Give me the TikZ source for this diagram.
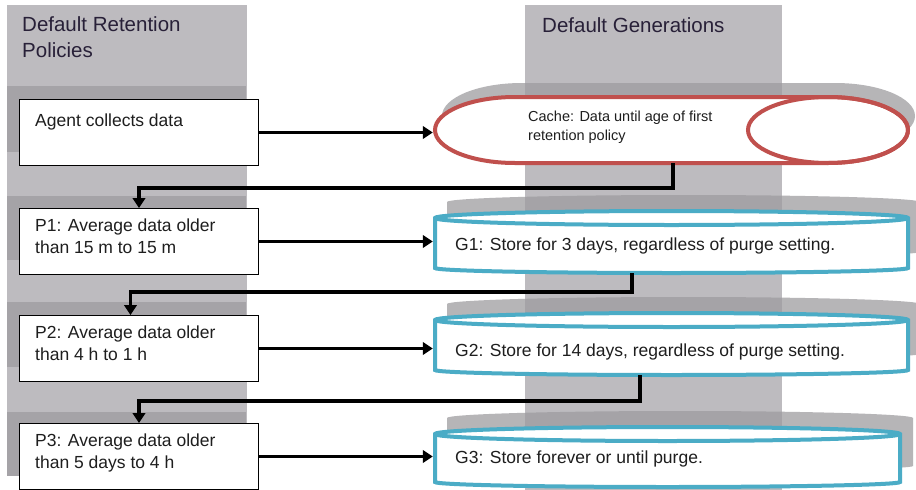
\documentclass[tikz,border=0pt]{standalone}
\usepackage{fontspec}
\setmainfont{Liberation Sans}
\usetikzlibrary{arrows.meta}
\definecolor{colgray}{RGB}{157,155,160}
\definecolor{shadowgray}{RGB}{182,181,183}
\definecolor{cachered}{RGB}{192,80,77}
\definecolor{genblue}{RGB}{75,172,198}
\definecolor{titletext}{RGB}{40,32,56}
\definecolor{bodytext}{RGB}{30,30,30}
\begin{document}
\begin{tikzpicture}[x=1pt,y=-1pt,
  column/.style={fill=colgray, fill opacity=0.67, draw=none},
  shadowfill/.style={fill=shadowgray, draw=none},
  policybox/.style={draw=black, line width=1pt, fill=white, rectangle, minimum width=239pt, minimum height=66pt, anchor=north west, inner sep=0pt},
  boxtext/.style={font=\fontsize{17.5}{22}\selectfont, text=bodytext, align=left, anchor=north west, inner sep=0pt},
  cachetext/.style={font=\fontsize{14.5}{18.5}\selectfont, text=bodytext, align=left, anchor=north west, inner sep=0pt},
  titletxt/.style={font=\fontsize{20.5}{26}\selectfont, text=titletext, align=left, anchor=north west, inner sep=0pt},
  gentext/.style={font=\fontsize{17.5}{21}\selectfont, text=bodytext, anchor=base west, inner sep=0pt},
  flow/.style={draw=black, line width=3.6pt, -{Triangle[length=10pt,width=12.5pt]}},
  anchorbox/.style={rectangle, draw=none, inner sep=0pt},
  redline/.style={draw=cachered, line width=4pt},
  blueline/.style={draw=genblue, line width=4pt}
]
\useasboundingbox (0,0) rectangle (916,490);
\fill[white] (0,0) rectangle (916,490);

% shadows on the left
\fill[shadowfill] (7,86) rectangle (246,152);
\fill[shadowfill] (7,196) rectangle (246,260);
\fill[shadowfill] (7,302) rectangle (246,367);
\fill[shadowfill] (7,412) rectangle (246,476);

% shadows on the right
\fill[shadowfill] (522,83) -- (835,83) arc[start angle=-90,end angle=90,x radius=80,y radius=33] -- (522,149) arc[start angle=90,end angle=270,x radius=80,y radius=33] -- cycle;
\fill[shadowfill] (447,202) arc[start angle=180,end angle=360,x radius=236.5,y radius=7] -- (920,252) arc[start angle=0,end angle=180,x radius=236.5,y radius=5] -- cycle;
\fill[shadowfill] (447,304) arc[start angle=180,end angle=360,x radius=236.5,y radius=7] -- (920,354) arc[start angle=0,end angle=180,x radius=236.5,y radius=5] -- cycle;
\fill[shadowfill] (447,418) arc[start angle=180,end angle=360,x radius=233,y radius=7] -- (913,466) arc[start angle=0,end angle=180,x radius=233,y radius=5] -- cycle;

% columns
\fill[column] (7,5) rectangle (247,476);
\fill[column] (525,5) rectangle (782,490);

% titles
\node[titletxt] (lefttitle) at (22,16) {Default Retention\\Policies};
\node[titletxt] (righttitle) at (542,17) {Default Generations};

% policy boxes
\node[policybox] (agent) at (19,99) {};
\node[policybox] (p1) at (19,208) {};
\node[policybox] (p2) at (19,315) {};
\node[policybox] (p3) at (19,423) {};
\node[boxtext] (agenttxt) at (35,114) {Agent collects data};
\node[boxtext] (p1txt) at (35,219) {P1: Average data older\\than 15 m to 15 m};
\node[boxtext] (p2txt) at (35,326) {P2: Average data older\\than 4 h to 1 h};
\node[boxtext] (p3txt) at (35,434) {P3: Average data older\\than 5 days to 4 h};

% cache cylinder
\node[anchorbox, minimum width=473pt, minimum height=66pt] (cache) at (671.5,130) {};
\path[redline, fill=white] (515,97) -- (828,97) arc[start angle=-90,end angle=90,x radius=80,y radius=33] -- (515,163) arc[start angle=90,end angle=270,x radius=80,y radius=33] -- cycle;
\draw[redline] (828,130) ellipse[x radius=80,y radius=33];
\node[cachetext] (cachetxt) at (528,111) {Cache: Data until age of first\\retention policy};

% generation cylinders
\node[anchorbox, minimum width=473pt, minimum height=62pt] (g1) at (671.5,242) {};
\node[anchorbox, minimum width=473pt, minimum height=62pt] (g2) at (671.5,344) {};
\node[anchorbox, minimum width=465pt, minimum height=60pt] (g3) at (667.5,457) {};
\path[blueline, fill=white] (435,218) arc[start angle=180,end angle=360,x radius=236.5,y radius=7] -- (908,268) arc[start angle=0,end angle=180,x radius=236.5,y radius=5] -- cycle;
\draw[blueline] (435,218) arc[start angle=180,end angle=0,x radius=236.5,y radius=7];
\path[blueline, fill=white] (435,320) arc[start angle=180,end angle=360,x radius=236.5,y radius=7] -- (908,370) arc[start angle=0,end angle=180,x radius=236.5,y radius=5] -- cycle;
\draw[blueline] (435,320) arc[start angle=180,end angle=0,x radius=236.5,y radius=7];
\path[blueline, fill=white] (435,434) arc[start angle=180,end angle=360,x radius=232.5,y radius=7] -- (900,482) arc[start angle=0,end angle=180,x radius=232.5,y radius=5] -- cycle;
\draw[blueline] (435,434) arc[start angle=180,end angle=0,x radius=232.5,y radius=7];
\node[gentext] (g1txt) at (455,250) {G1: Store for 3 days, regardless of purge setting.};
\node[gentext] (g2txt) at (455,356) {G2: Store for 14 days, regardless of purge setting.};
\node[gentext] (g3txt) at (455,463) {G3: Store forever or until purge.};

% connectors
\draw[flow, shorten >=2pt] (agent.east) -- (agent.east -| cache.west);
\draw[flow, shorten >=2pt] (p1.east) -- (p1.east -| g1.west);
\draw[flow, shorten >=2pt] (p2.east) -- (p2.east -| g2.west);
\draw[flow, shorten >=2pt] (p3.east) -- (p3.east -| g3.west);
\draw[flow] ([xshift=1.5pt]cache.south) -- ++(0,25) -| (p1.north);
\draw[flow] ([xshift=-39.5pt]g1.south) -- ++(0,19) -| ([xshift=-8.5pt]p2.north);
\draw[flow] ([xshift=-31.5pt]g2.south) -- ++(0,26) -| (p3.north);
\end{tikzpicture}
\end{document}
